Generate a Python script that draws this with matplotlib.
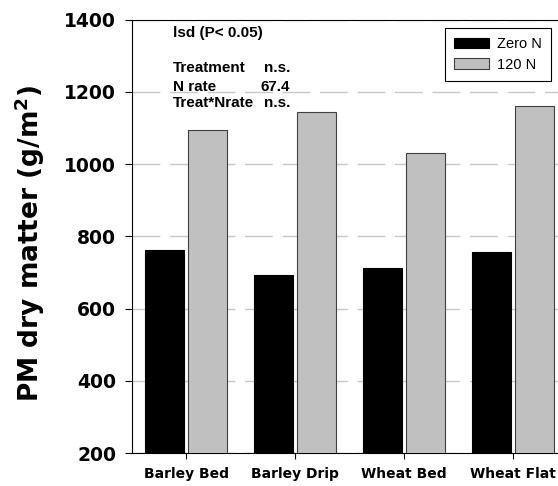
import numpy as np
import matplotlib
matplotlib.use('Agg')
import matplotlib.pyplot as plt

# values
categories = ['Barley Bed', 'Barley Drip', 'Wheat Bed', 'Wheat Flat']
zero_n = [762, 692, 711, 757]
n120 = [1093, 1144, 1030, 1161]
series_labels = ['Zero N', '120 N']
yticks = [200, 400, 600, 800, 1000, 1200, 1400]
lsd_rows = [('Treatment', 'n.s.'), ('N rate', '67.4'), ('Treat*Nrate', 'n.s.')]

W, H = 558, 486
fig = plt.figure(figsize=(W / 100, H / 100), dpi=100)
ax = fig.add_axes([131.5 / W, 33 / H, 436 / W, 433.5 / H])

x = np.arange(len(categories))
bw = 0.36
ax.bar(x - 0.2, zero_n, bw, color='black', edgecolor='black',
       linewidth=0.8, label=series_labels[0], zorder=3)
ax.bar(x + 0.2, n120, bw, color='#c0c0c0', edgecolor='#404040',
       linewidth=0.8, label=series_labels[1], zorder=3)

ax.set_xlim(-0.5, 3.5)
ax.set_ylim(200, 1400)
ax.set_yticks(yticks)
ax.set_xticks(x)
ax.set_xticklabels(categories, fontsize=10, fontweight='bold', family='DejaVu Sans')
for lab in ax.get_yticklabels():
    lab.set_fontsize(13.5)
    lab.set_fontweight('bold')
ax.tick_params(axis='y', direction='out', length=5, width=0.8, pad=6)
ax.tick_params(axis='x', direction='out', length=4, width=0.8, pad=6)
ax.yaxis.grid(True, color='#c8c8c8', linestyle=(0, (20, 7)), linewidth=1.0, zorder=0)
ax.set_axisbelow(True)
for sp in ax.spines.values():
    sp.set_linewidth(0.8)
ax.spines['right'].set_visible(False)

ax.set_ylabel('PM dry matter (g/m$^\\mathbf{2}$)', fontsize=19, fontweight='bold')
ax.yaxis.label.set_va('center')
ax.yaxis.set_label_coords((30 - 131.5) / 436, 0.484)

tf = dict(family='Liberation Sans', fontweight='bold', fontsize=11, transform=ax.transAxes,
          va='center')
ax.text(0.095, 0.969, 'lsd (P< 0.05)', ha='left', **tf)
ys = [0.888, 0.844, 0.807]
for (name, val), yy in zip(lsd_rows, ys):
    ax.text(0.095, yy, name, ha='left', **tf)
    ax.text(0.364, yy, val, ha='right', **tf)

leg = ax.legend(loc='upper left', bbox_to_anchor=(445 / W, (H - 27.7) / H),
                bbox_transform=fig.transFigure, borderaxespad=0, fancybox=False,
                prop={'family': 'Liberation Sans', 'size': 10.5}, handlelength=2.4,
                handleheight=0.72, handletextpad=0.5, labelspacing=0.45,
                borderpad=0.65, framealpha=1)
leg.get_frame().set_edgecolor('black')
leg.get_frame().set_linewidth(0.8)

fig.savefig('out.png', dpi=100)
